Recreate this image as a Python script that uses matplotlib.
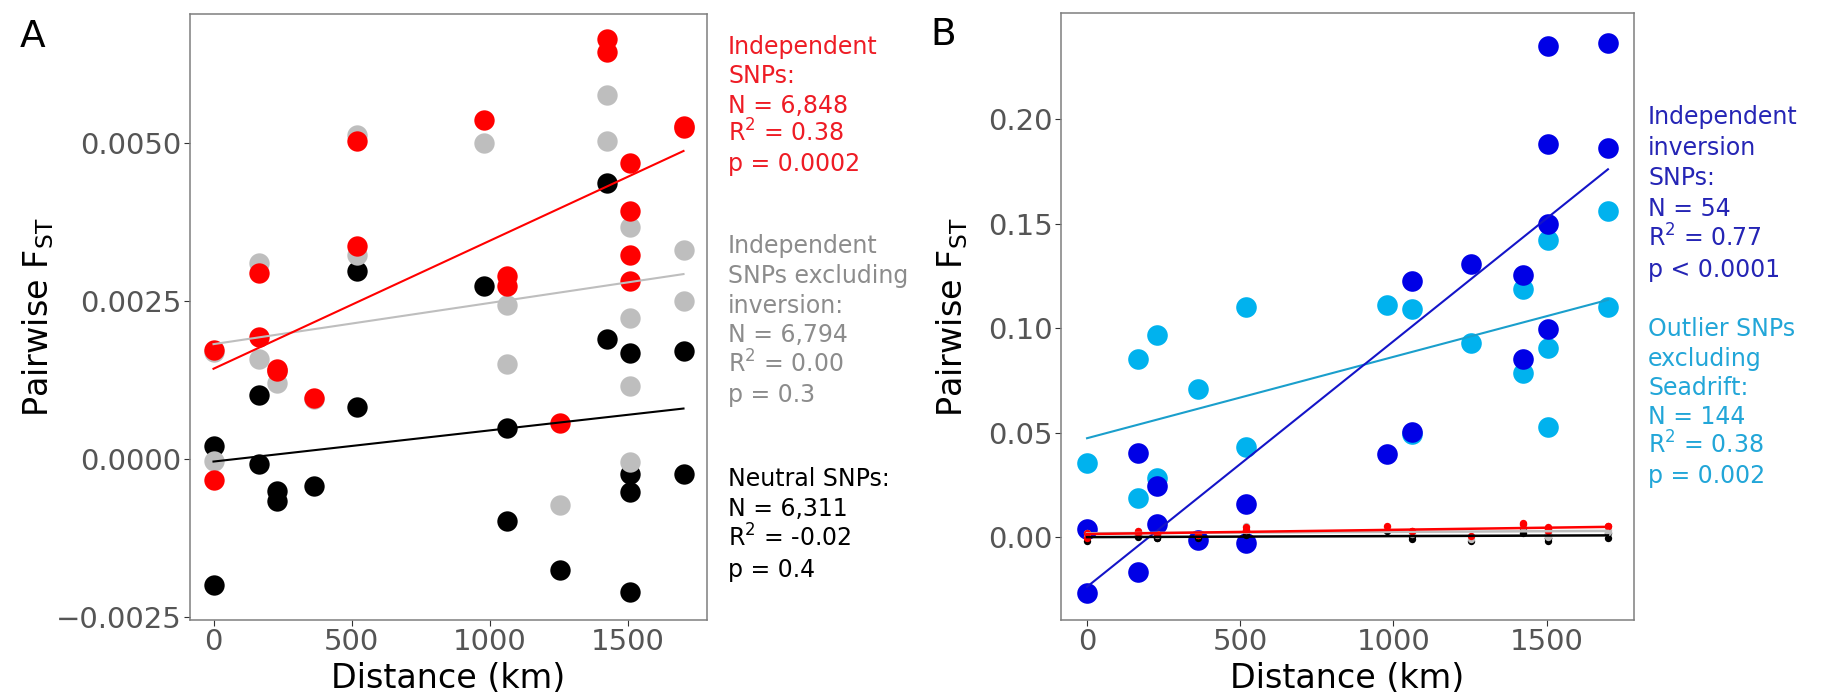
import matplotlib.pyplot as plt
from matplotlib.ticker import FixedLocator, FixedFormatter

plt.rcParams['font.family'] = ['DejaVu Sans']
plt.rcParams['mathtext.fontset'] = 'dejavusans'

W, H = 1827, 699

# Panel A data: pairwise FST vs distance (21 population pairs)
dist = [0, 0, 165, 165, 228, 228, 362, 518, 518, 980, 1061, 1061, 1254,
        1424, 1424, 1505, 1505, 1505, 1505, 1700, 1700]
fst_indep = [0.00173, -0.00034, 0.00294, 0.00193, 0.00142, 0.00140, 0.00097,
             0.00504, 0.00338, 0.00537, 0.00290, 0.00274, 0.00057,
             0.00665, 0.00645, 0.00469, 0.00393, 0.00324, 0.00282, 0.00528, 0.00525]
fst_noinv = [-0.00003, 0.00170, 0.00311, 0.00159, 0.00121, 0.00140, 0.00095,
             0.00514, 0.00324, 0.00500, 0.00244, 0.00150, -0.00073,
             0.00576, 0.00504, 0.00367, 0.00224, 0.00116, -0.00005, 0.00331, 0.00250]
fst_neutral = [0.00020, -0.00199, 0.00102, -0.00008, -0.00050, -0.00066, -0.00042,
               0.00298, 0.00082, 0.00274, 0.00049, -0.00098, -0.00175,
               0.00438, 0.00190, 0.00168, -0.00024, -0.00052, -0.00211, 0.00171, -0.00024]

# Panel B data
fst_inv = [0.0037, -0.0270, 0.0404, -0.0166, 0.0244, 0.0062, -0.0014,
           0.0158, -0.0027, 0.0399, 0.1224, 0.0504, 0.1306,
           0.1254, 0.0853, 0.2349, 0.1879, 0.1497, 0.0998, 0.2366, 0.1862]
dist_out = [0, 165, 165, 228, 228, 362, 518, 518, 980, 1061, 1061, 1254,
            1424, 1424, 1505, 1505, 1505, 1700, 1700]
fst_out = [0.0353, 0.0851, 0.0185, 0.0967, 0.0281, 0.0707, 0.1103, 0.0430,
           0.1109, 0.1092, 0.0494, 0.0929, 0.1189, 0.0784,
           0.1422, 0.0904, 0.0528, 0.1562, 0.1101]

# fitted regression lines (value at 0 km and 1700 km)
fit_x = [0, 1700]
fit_indep = [0.00143, 0.00488]
fit_noinv = [0.00182, 0.00293]
fit_neutral = [-0.00004, 0.00080]
fit_inv = [-0.0238, 0.1760]
fit_out = [0.0473, 0.1135]

x_ticks = [0, 500, 1000, 1500]
a_ticks = [-0.0025, 0.0, 0.0025, 0.0050]
a_labels = ["\u22120.0025", "0.0000", "0.0025", "0.0050"]
b_ticks = [0.00, 0.05, 0.10, 0.15, 0.20]
b_labels = ["0.00", "0.05", "0.10", "0.15", "0.20"]

RED = "#FF0000"
GREY = "#BEBEBE"
BLUE = "#0000E6"
SKY = "#00B2EE"


def fx(px):
    return px / W


def fy(py):
    return 1 - py / H


def style(ax, ticks, labels):
    ax.set_xlim(-85, 1785)
    ax.xaxis.set_major_locator(FixedLocator(x_ticks))
    ax.yaxis.set_major_locator(FixedLocator(ticks))
    ax.yaxis.set_major_formatter(FixedFormatter(labels))
    for s in ax.spines.values():
        s.set_color("#7F7F7F")
        s.set_linewidth(1.1)
    ax.tick_params(direction="out", length=4, width=0.8, color="#333333",
                   labelcolor="#555555", labelsize=21, pad=2)


fig = plt.figure(figsize=(W / 100, H / 100), dpi=100)

# Panel A
axA = fig.add_axes([fx(190), fy(620), fx(707) - fx(190), fy(14) - fy(620)])
axA.scatter(dist, fst_neutral, s=215, color="black", lw=0, zorder=2)
axA.scatter(dist, fst_noinv, s=215, color=GREY, lw=0, zorder=3)
axA.scatter(dist, fst_indep, s=215, color=RED, lw=0, zorder=4)
axA.plot(fit_x, fit_neutral, color="black", lw=1.5, zorder=5)
axA.plot(fit_x, fit_noinv, color=GREY, lw=1.5, zorder=5)
axA.plot(fit_x, fit_indep, color=RED, lw=1.5, zorder=5)
axA.set_ylim(-0.00255, 0.00705)
style(axA, a_ticks, a_labels)

# Panel B
axB = fig.add_axes([fx(1061), fy(620), fx(1634) - fx(1061), fy(13) - fy(620)])
axB.scatter(dist_out, fst_out, s=220, color=SKY, lw=0, zorder=2)
axB.scatter(dist, fst_inv, s=220, color=BLUE, lw=0, zorder=3)
axB.scatter(dist, fst_neutral, s=28, color="black", lw=0, zorder=4)
axB.scatter(dist, fst_noinv, s=28, color=GREY, lw=0, zorder=4)
axB.scatter(dist, fst_indep, s=28, color=RED, lw=0, zorder=4)
axB.plot(fit_x, fit_out, color="#1A9FCC", lw=1.5, zorder=5)
axB.plot(fit_x, fit_inv, color="#1414C8", lw=1.5, zorder=5)
axB.plot(fit_x, fit_neutral, color="black", lw=1.8, zorder=5)
axB.plot(fit_x, fit_noinv, color=GREY, lw=1.8, zorder=5)
axB.plot(fit_x, fit_indep, color=RED, lw=1.8, zorder=5)
axB.set_ylim(-0.0397, 0.2508)
style(axB, b_ticks, b_labels)

# axis titles and panel letters
for cx in [(190 + 707) / 2, (1061 + 1634) / 2]:
    fig.text(fx(cx), fy(688), "Distance (km)", ha="center", va="baseline",
             fontsize=24, color="black")
fig.text(fx(38), fy(317), r"Pairwise F$_{\mathrm{ST}}$", rotation=90,
         ha="center", va="center", fontsize=24)
fig.text(fx(952), fy(317), r"Pairwise F$_{\mathrm{ST}}$", rotation=90,
         ha="center", va="center", fontsize=24)
fig.text(fx(20), fy(47), "A", fontsize=27, va="baseline")
fig.text(fx(930), fy(45), "B", fontsize=27, va="baseline")


def block(x, y0, step, lines, color):
    for i, t in enumerate(lines):
        fig.text(fx(x), fy(y0 + i * step), t, color=color, fontsize=17,
                 va="baseline", ha="left")


block(728, 54, 29.3, ["Independent", "SNPs:", "N = 6,848",
                      r"R$^2$ = 0.38", "p = 0.0002"], "#EE1C25")
block(728, 253, 29.8, ["Independent", "SNPs excluding", "inversion:",
                       "N = 6,794", r"R$^2$ = 0.00", "p = 0.3"], "#8C8C8C")
block(728, 486, 30.3, ["Neutral SNPs:", "N = 6,311", r"R$^2$ = -0.02",
                       "p = 0.4"], "black")
block(1648, 124, 30.6, ["Independent", "inversion", "SNPs:", "N = 54",
                        r"R$^2$ = 0.77", "p < 0.0001"], "#2525B5")
block(1648, 336, 29.5, ["Outlier SNPs", "excluding", "Seadrift:", "N = 144",
                        r"R$^2$ = 0.38", "p = 0.002"], "#22A6D8")

fig.savefig("out.png", dpi=100)
